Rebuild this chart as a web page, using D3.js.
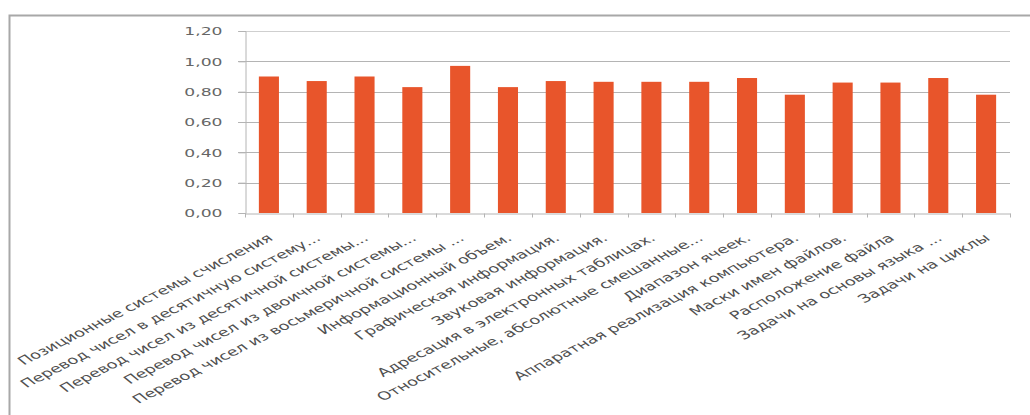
<!DOCTYPE html>
<html>
<head>
<meta charset="utf-8">
<script src="https://cdn.jsdelivr.net/npm/d3@7"></script>
<style>
  html, body { margin: 0; padding: 0; background: #fff; }
  svg { display: block; }
  text { font-family: "DejaVu Sans", Verdana, sans-serif; }
</style>
</head>
<body>
<svg id="chart" width="1030" height="415"></svg>
<script>
const categories = [
  "Позиционные системы счисления",
  "Перевод чисел в десятичную систему...",
  "Перевод чисел из десятичной системы...",
  "Перевод чисел из двоичной системы...",
  "Перевод чисел из восьмеричной системы ...",
  "Информационный объем.",
  "Графическая информация.",
  "Звуковая информация.",
  "Адресация в электронных таблицах.",
  "Относительные, абсолютные смешанные...",
  "Диапазон ячеек.",
  "Аппаратная реализация компьютера.",
  "Маски имен файлов.",
  "Расположение файла",
  "Задачи на основы языка ...",
  "Задачи на циклы"
];
const values = [0.90, 0.87, 0.90, 0.83, 0.97, 0.83, 0.87, 0.865, 0.865, 0.865, 0.89, 0.78, 0.86, 0.86, 0.89, 0.78];
const yTicks = [0, 0.2, 0.4, 0.6, 0.8, 1.0, 1.2];

const svg = d3.select("#chart");

// outer frame
svg.append("rect")
  .attr("x", 9.5).attr("y", 15.5)
  .attr("width", 1100).attr("height", 500)
  .attr("fill", "none").attr("stroke", "#a8a8a8").attr("stroke-width", 2);

const plotLeft = 245, plotRight = 1010, plotTop = 31, plotBottom = 213;
const x = d3.scaleBand().domain(categories).range([plotLeft, plotRight]).paddingInner(0.58).paddingOuter(0.29);
const y = d3.scaleLinear().domain([0, 1.2]).range([plotBottom, plotTop]);

const ru = d3.formatLocale({decimal: ",", thousands: " ", grouping: [3], currency: ["", " ₽"]});
const fmt = ru.format(".2f");

// gridlines
svg.append("g").selectAll("line").data(yTicks.filter(d => d > 0)).join("line")
  .attr("x1", plotLeft - 7).attr("x2", plotRight)
  .attr("y1", d => Math.round(y(d)) + 0.5).attr("y2", d => Math.round(y(d)) + 0.5)
  .attr("stroke", d => d > 1.1 ? "#cfcfcf" : "#b4b4b4").attr("stroke-width", 1);

// y axis
const yAxis = svg.append("g").attr("transform", `translate(${plotLeft + 0.5},0)`)
  .call(d3.axisLeft(y).tickValues(yTicks).tickFormat(fmt).tickSize(7));
yAxis.select(".domain").attr("stroke", "#b4b4b4");
yAxis.selectAll(".tick line").attr("stroke", "#b4b4b4");
yAxis.selectAll(".tick text")
  .attr("x", 0)
  .attr("dy", "0.36em")
  .attr("transform", "translate(-23,0) scale(1.56,1)")
  .attr("text-anchor", "end")
  .attr("fill", "#666")
  .style("font-size", "11px");

// bars
svg.append("g").selectAll("rect").data(values).join("rect")
  .attr("x", (d, i) => x(categories[i]))
  .attr("width", x.bandwidth())
  .attr("y", d => y(d))
  .attr("height", d => y(0) - y(d))
  .attr("fill", "#e8552b");

// x axis
const xAxis = svg.append("g").attr("transform", `translate(0,${plotBottom + 0.5})`)
  .call(d3.axisBottom(x).tickSize(0));
xAxis.select(".domain").attr("stroke", "#b4b4b4");
xAxis.selectAll(".tick text")
  .attr("y", 0).attr("dy", 0)
  .attr("transform", "translate(5,26) scale(1.55,1) rotate(-38)")
  .attr("text-anchor", "end")
  .attr("fill", "#505050")
  .style("font-size", "11.5px");

// tick marks at category boundaries
const bounds = d3.range(categories.length + 1).map(i => x.range()[0] + i * x.step());
xAxis.append("g").selectAll("line").data(bounds).join("line")
  .attr("x1", d => Math.round(d) + 0.5).attr("x2", d => Math.round(d) + 0.5)
  .attr("y1", 0).attr("y2", 4)
  .attr("stroke", "#b4b4b4");
</script>
</body>
</html>
